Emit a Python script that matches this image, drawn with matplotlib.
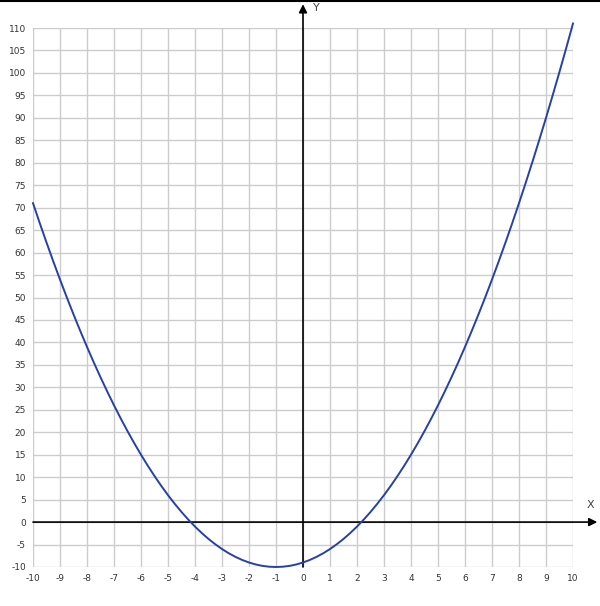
import matplotlib.pyplot as plt
from matplotlib.lines import Line2D

# curve samples, x from -10 to 10 in steps of 0.25
x_vals = [i / 4 for i in range(-40, 41)]
y_vals = [71, 66.5625, 62.25, 58.0625, 54, 50.0625, 46.25, 42.5625,
          39, 35.5625, 32.25, 29.0625, 26, 23.0625, 20.25, 17.5625,
          15, 12.5625, 10.25, 8.0625, 6, 4.0625, 2.25, 0.5625,
          -1, -2.4375, -3.75, -4.9375, -6, -6.9375, -7.75, -8.4375,
          -9, -9.4375, -9.75, -9.9375, -10, -9.9375, -9.75, -9.4375,
          -9, -8.4375, -7.75, -6.9375, -6, -4.9375, -3.75, -2.4375,
          -1, 0.5625, 2.25, 4.0625, 6, 8.0625, 10.25, 12.5625,
          15, 17.5625, 20.25, 23.0625, 26, 29.0625, 32.25, 35.5625,
          39, 42.5625, 46.25, 50.0625, 54, 58.0625, 62.25, 66.5625,
          71, 75.5625, 80.25, 85.0625, 90, 95.0625, 100.25, 105.5625,
          111]

x_ticks = list(range(-10, 11))
y_ticks = list(range(-10, 111, 5))

fig = plt.figure(figsize=(6, 6.06), dpi=100)
ax = fig.add_axes([33 / 600, 39 / 606, 540 / 600, 539 / 606])

ax.set_xlim(-10, 10)
ax.set_ylim(-10, 110)
ax.set_xticks(x_ticks)
ax.set_yticks(y_ticks)
ax.grid(True, color='#cccccc', lw=1)
ax.set_axisbelow(True)
for s in ax.spines.values():
    s.set_visible(False)
ax.tick_params(length=0, labelsize=6.5, labelcolor='#333333', pad=5)
ax.set_xticklabels([str(t) for t in x_ticks])
ax.set_yticklabels([str(t) for t in y_ticks])

# axes with arrows
ax.annotate('', xy=(10.9, 0), xytext=(-10, 0), annotation_clip=False,
            arrowprops=dict(arrowstyle='-|>', color='black', lw=1.2,
                            mutation_scale=12, shrinkA=0, shrinkB=0))
ax.annotate('', xy=(0, 115.3), xytext=(0, -10), annotation_clip=False,
            arrowprops=dict(arrowstyle='-|>', color='black', lw=1.2,
                            mutation_scale=12, shrinkA=0, shrinkB=0))
ax.text(10.65, 2.6, 'X', fontsize=8, color='#444444', ha='center', va='bottom',
        clip_on=False)
ax.text(0.5, 114.5, 'Y', fontsize=8, color='#444444', ha='center', va='center',
        clip_on=False)

ax.plot(x_vals, y_vals, color='#2640a8', lw=1.4, clip_on=False, zorder=5)

# thin black border along the top
fig.add_artist(Line2D([0, 1], [0.999, 0.999], color='black', lw=1.5,
                      transform=fig.transFigure))

fig.savefig('out.png', dpi=100)
